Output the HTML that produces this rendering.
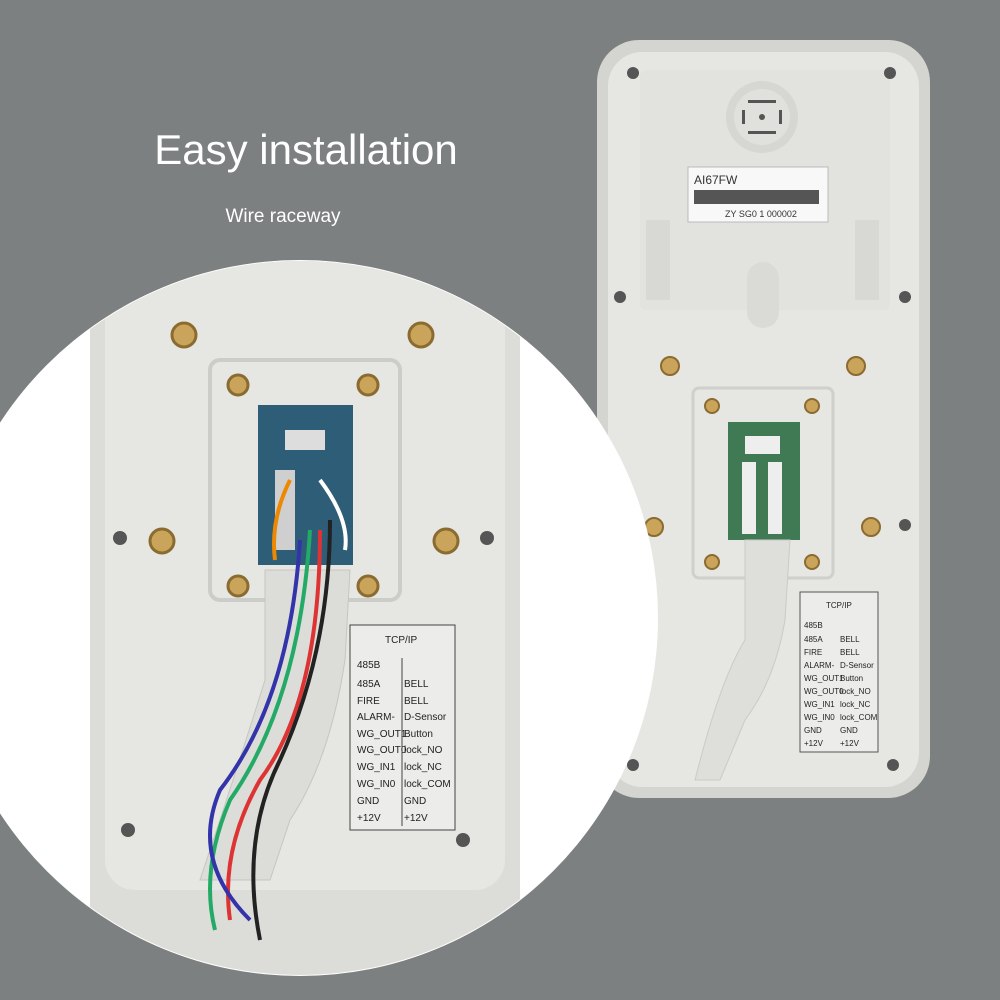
<!DOCTYPE html>
<html><head><style>
body{margin:0;width:1000px;height:1000px;overflow:hidden;background:#7d8080;font-family:"Liberation Sans",sans-serif}
</style></head><body>
<svg width="1000" height="1000" viewBox="0 0 1000 1000" xmlns="http://www.w3.org/2000/svg" style="position:absolute;left:0;top:0">
<rect width="1000" height="1000" fill="#7d8080"/>
<text x="306" y="164" font-size="42" fill="#fff" text-anchor="middle" font-family="Liberation Sans">Easy installation</text>
<text x="283" y="222" font-size="19" fill="#fff" text-anchor="middle" font-family="Liberation Sans">Wire raceway</text>

<!-- right device -->
<rect x="597" y="40" width="333" height="758" rx="42" fill="#d4d4d0"/>
<rect x="608" y="52" width="311" height="735" rx="34" fill="#e6e6e2"/>
<rect x="640" y="70" width="250" height="240" rx="6" fill="#e2e2de"/>
<circle cx="762" cy="117" r="36" fill="#d6d6d2"/>
<circle cx="762" cy="117" r="28" fill="#e0e0dc"/>
<g fill="#555"><circle cx="762" cy="117" r="3"/><rect x="748" y="100" width="28" height="3"/><rect x="748" y="131" width="28" height="3"/><rect x="742" y="110" width="3" height="14"/><rect x="779" y="110" width="3" height="14"/></g>
<rect x="688" y="167" width="140" height="55" fill="#f8f8f8" stroke="#bbb"/>
<text x="694" y="184" font-size="12" fill="#333">AI67FW</text>
<rect x="694" y="190" width="125" height="14" fill="#555"/>
<text x="725" y="217" font-size="9" fill="#333">ZY SG0 1 000002</text>
<rect x="646" y="220" width="24" height="80" fill="#d8d8d4"/>
<rect x="855" y="220" width="24" height="80" fill="#d8d8d4"/>
<rect x="747" y="262" width="32" height="66" rx="16" fill="#dadad6"/>
<g fill="#c9a45a" stroke="#8a6b30" stroke-width="2">
<circle cx="670" cy="366" r="9"/><circle cx="856" cy="366" r="9"/>
<circle cx="654" cy="527" r="9"/><circle cx="871" cy="527" r="9"/>
<circle cx="712" cy="406" r="7"/><circle cx="812" cy="406" r="7"/>
<circle cx="712" cy="562" r="7"/><circle cx="812" cy="562" r="7"/>
</g>
<g fill="#555"><circle cx="633" cy="73" r="6"/><circle cx="890" cy="73" r="6"/><circle cx="620" cy="297" r="6"/><circle cx="905" cy="297" r="6"/><circle cx="620" cy="525" r="6"/><circle cx="905" cy="525" r="6"/><circle cx="633" cy="765" r="6"/><circle cx="893" cy="765" r="6"/></g>
<rect x="693" y="388" width="140" height="190" rx="6" fill="none" stroke="#cfcfcb" stroke-width="3"/>
<rect x="728" y="422" width="72" height="118" fill="#3f7a55"/>
<rect x="745" y="436" width="35" height="18" fill="#eee"/>
<rect x="742" y="462" width="14" height="72" fill="#eee"/>
<rect x="768" y="462" width="14" height="72" fill="#eee"/>
<path d="M745 540 L790 540 L785 620 Q775 680 745 720 L720 780 L695 780 Q720 680 745 640 Z" fill="#dedeDA" stroke="#cacac6"/>
<rect x="800" y="592" width="78" height="160" fill="#ececea" stroke="#555"/>
<text x="826" y="608" font-size="8" fill="#222">TCP/IP</text>
<g font-size="8" fill="#222">
<text x="804" y="628">485B</text><text x="804" y="642">485A</text><text x="840" y="642">BELL</text>
<text x="804" y="655">FIRE</text><text x="840" y="655">BELL</text>
<text x="804" y="668">ALARM-</text><text x="840" y="668">D-Sensor</text>
<text x="804" y="681">WG_OUT1</text><text x="840" y="681">Button</text>
<text x="804" y="694">WG_OUT0</text><text x="840" y="694">lock_NO</text>
<text x="804" y="707">WG_IN1</text><text x="840" y="707">lock_NC</text>
<text x="804" y="720">WG_IN0</text><text x="840" y="720">lock_COM</text>
<text x="804" y="733">GND</text><text x="840" y="733">GND</text>
<text x="804" y="746">+12V</text><text x="840" y="746">+12V</text></g>

<!-- circle zoom -->
<defs><clipPath id="c"><circle cx="300" cy="618" r="357"/></clipPath></defs>
<circle cx="300" cy="618" r="358" fill="#ffffff"/>
<g clip-path="url(#c)">
<rect x="90" y="250" width="430" height="740" rx="30" fill="#dcdcd8"/>
<rect x="105" y="260" width="400" height="630" rx="30" fill="#e6e6e2"/>
<rect x="210" y="360" width="190" height="240" rx="10" fill="none" stroke="#ccccc8" stroke-width="4"/>
<rect x="258" y="405" width="95" height="160" fill="#2e5d78"/>
<rect x="285" y="430" width="40" height="20" fill="#ddd"/>
<rect x="275" y="470" width="20" height="80" fill="#cfcfcf"/>
<path d="M265 570 L350 570 L345 660 Q330 760 290 820 L270 880 L200 880 Q240 760 265 680 Z" fill="#dcdcd8" stroke="#c5c5c1"/>
<g fill="none" stroke-width="4">
<path d="M320 530 Q320 700 260 780 Q220 850 230 920" stroke="#d33"/>
<path d="M310 530 Q300 700 230 800 Q200 870 215 930" stroke="#2a6"/>
<path d="M300 540 Q290 700 220 790 Q190 860 250 920" stroke="#33a"/>
<path d="M330 520 Q330 650 280 760 Q240 840 260 940" stroke="#222"/>
<path d="M290 480 Q270 520 275 560" stroke="#e80"/>
<path d="M320 480 Q350 520 345 550" stroke="#fff"/>
</g>
<g fill="#c9a45a" stroke="#8a6b30" stroke-width="3">
<circle cx="184" cy="335" r="12"/><circle cx="421" cy="335" r="12"/>
<circle cx="162" cy="541" r="12"/><circle cx="446" cy="541" r="12"/>
<circle cx="238" cy="385" r="10"/><circle cx="368" cy="385" r="10"/>
<circle cx="238" cy="586" r="10"/><circle cx="368" cy="586" r="10"/>
</g>
<g fill="#555"><circle cx="120" cy="538" r="7"/><circle cx="487" cy="538" r="7"/><circle cx="128" cy="830" r="7"/><circle cx="463" cy="840" r="7"/></g>
<rect x="350" y="625" width="105" height="205" fill="#ececea" stroke="#444"/>
<text x="385" y="643" font-size="10" fill="#222">TCP/IP</text>
<g font-size="10" fill="#222">
<text x="357" y="668">485B</text><text x="357" y="687">485A</text><text x="404" y="687">BELL</text>
<text x="357" y="704">FIRE</text><text x="404" y="704">BELL</text>
<text x="357" y="720">ALARM-</text><text x="404" y="720">D-Sensor</text>
<text x="357" y="737">WG_OUT1</text><text x="404" y="737">Button</text>
<text x="357" y="753">WG_OUT0</text><text x="404" y="753">lock_NO</text>
<text x="357" y="770">WG_IN1</text><text x="404" y="770">lock_NC</text>
<text x="357" y="787">WG_IN0</text><text x="404" y="787">lock_COM</text>
<text x="357" y="804">GND</text><text x="404" y="804">GND</text>
<text x="357" y="821">+12V</text><text x="404" y="821">+12V</text></g>
<line x1="402" y1="658" x2="402" y2="826" stroke="#444"/>
</g>
</svg>
</body></html>
